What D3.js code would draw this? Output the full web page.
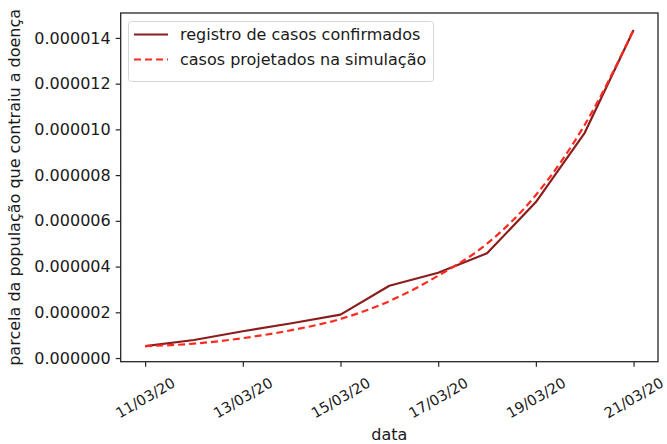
<!DOCTYPE html>
<html>
<head>
<meta charset="utf-8">
<script src="https://cdn.jsdelivr.net/npm/d3@7"></script>
<style>
  html, body { margin: 0; padding: 0; background: #fff; }
  svg { display: block; font-family: "DejaVu Sans", sans-serif; }
</style>
</head>
<body>
<svg id="chart" width="667" height="444"></svg>
<script>
// Dates (day index 0..10 = 11/03/20 .. 21/03/20)
const dates = ["11/03/20","12/03/20","13/03/20","14/03/20","15/03/20","16/03/20",
               "17/03/20","18/03/20","19/03/20","20/03/20","21/03/20"];
// Confirmed cases as share of population (×1e-6)
const confirmed = [0.525, 0.79, 1.17, 1.52, 1.90, 3.16, 3.73, 4.58, 6.82, 9.85, 14.35];
// Simulated projection (×1e-6)
const projected = [0.52, 0.63, 0.87, 1.22, 1.71, 2.49, 3.60, 5.00, 7.13, 10.2, 14.35];
const xTickLabels = ["11/03/20","13/03/20","15/03/20","17/03/20","19/03/20","21/03/20"];
const yTicks = [0, 2, 4, 6, 8, 10, 12, 14];
const seriesNames = ["registro de casos confirmados", "casos projetados na simulação"];

const svg = d3.select("#chart");
const plotLeft = 120.7, plotRight = 658, plotTop = 13, plotBottom = 361.7;

const x = d3.scaleLinear().domain([-0.5, 10.5]).range([plotLeft, plotRight]);
const y = d3.scaleLinear().domain([-0.16, 15.09]).range([plotBottom, plotTop]);

const fontSize = 16;
const xTickFontSize = 14.6;

// Lines
const line = d3.line().x((d, i) => x(i)).y(d => y(d));
const smooth = d3.line().x((d, i) => x(i)).y(d => y(d)).curve(d3.curveMonotoneX);

svg.append("path").datum(confirmed)
  .attr("d", line).attr("fill", "none")
  .attr("stroke", "#8b1d1d").attr("stroke-width", 2.2)
  .attr("stroke-linejoin", "round");

svg.append("path").datum(projected)
  .attr("d", smooth).attr("fill", "none")
  .attr("stroke", "#ff2a1f").attr("stroke-width", 2.2)
  .attr("stroke-dasharray", "7,4");

// Axes frame
svg.append("rect")
  .attr("x", plotLeft).attr("y", plotTop)
  .attr("width", plotRight - plotLeft).attr("height", plotBottom - plotTop)
  .attr("fill", "none").attr("stroke", "#262626").attr("stroke-width", 1.3);

// Y axis
const yAxis = d3.axisLeft(y).tickValues(yTicks)
  .tickSize(5).tickPadding(5)
  .tickFormat(d => (d * 1e-6).toFixed(6));
const gy = svg.append("g").attr("transform", `translate(${plotLeft},0)`).call(yAxis);
gy.select(".domain").remove();
gy.selectAll("line").attr("stroke", "#262626").attr("stroke-width", 1.2);
gy.selectAll("text").attr("font-size", fontSize).attr("fill", "#1a1a1a")
  .attr("font-family", "DejaVu Sans");

// X axis
const xIdx = xTickLabels.map(l => dates.indexOf(l));
const xAxis = d3.axisBottom(x).tickValues(xIdx).tickSize(5).tickFormat("");
const gx = svg.append("g").attr("transform", `translate(0,${plotBottom})`).call(xAxis);
gx.select(".domain").remove();
gx.selectAll("line").attr("stroke", "#262626").attr("stroke-width", 1.2);

svg.append("g").selectAll("text").data(xIdx).join("text")
  .attr("transform", d => `translate(${x(d)},${397.5}) rotate(-30)`)
  .attr("text-anchor", "middle").attr("dominant-baseline", "central")
  .attr("font-size", xTickFontSize).attr("fill", "#1a1a1a")
  .text(d => dates[d]);

// Axis titles
svg.append("text")
  .attr("x", (plotLeft + plotRight) / 2).attr("y", 440)
  .attr("text-anchor", "middle").attr("font-size", fontSize).attr("fill", "#1a1a1a")
  .text("data");

svg.append("text")
  .attr("transform", `translate(20,${(plotTop + plotBottom) / 2}) rotate(-90)`)
  .attr("text-anchor", "middle").attr("font-size", fontSize).attr("fill", "#1a1a1a")
  .text("parcela da população que contraiu a doença");

// Legend
const lg = svg.append("g");
lg.append("rect")
  .attr("x", 128.5).attr("y", 21.5).attr("width", 305).attr("height", 60)
  .attr("rx", 3).attr("fill", "#fff").attr("fill-opacity", 0.85)
  .attr("stroke", "#d6d6d6").attr("stroke-width", 1);
const styles = [
  { color: "#8b1d1d", dash: null },
  { color: "#ff2a1f", dash: "7,4" }
];
seriesNames.forEach((name, i) => {
  const yy = 34.5 + i * 25;
  lg.append("line")
    .attr("x1", 134).attr("x2", 168).attr("y1", yy).attr("y2", yy)
    .attr("stroke", styles[i].color).attr("stroke-width", 2.2)
    .attr("stroke-dasharray", styles[i].dash);
  lg.append("text")
    .attr("x", 180).attr("y", yy).attr("dominant-baseline", "central")
    .attr("font-size", fontSize).attr("fill", "#1a1a1a")
    .text(name);
});
</script>
</body>
</html>
